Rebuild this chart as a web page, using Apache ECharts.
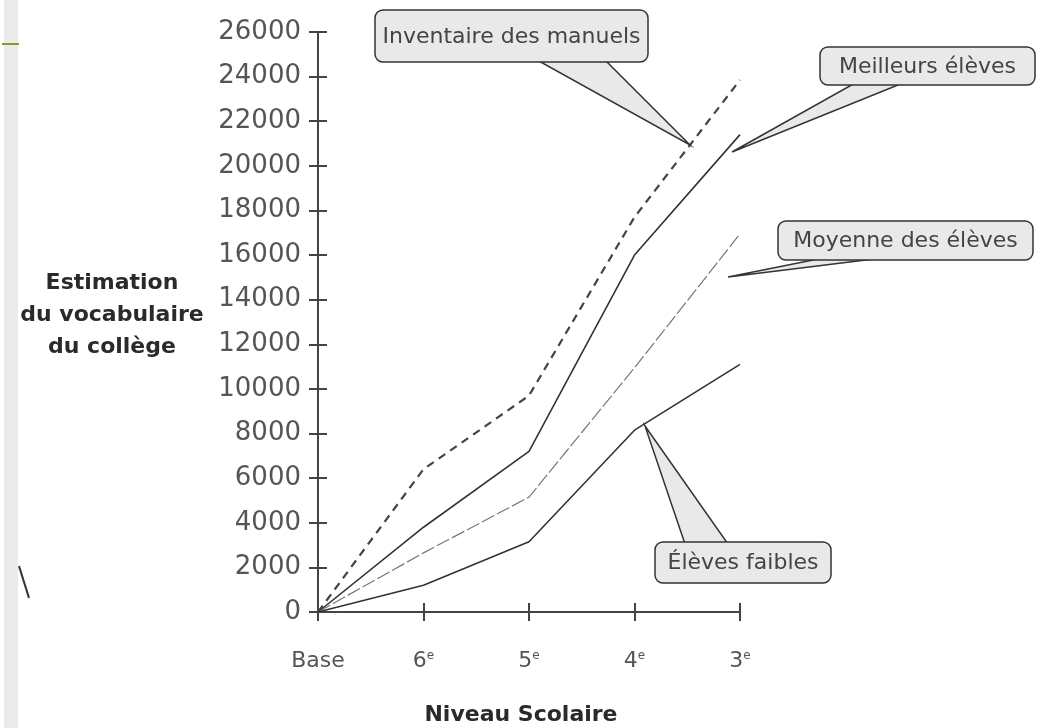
<!DOCTYPE html>
<html>
<head>
<meta charset="utf-8">
<script src="https://cdn.jsdelivr.net/npm/echarts@6/dist/echarts.min.js"></script>
<style>
html,body{margin:0;padding:0;background:#fff;}
#chart{width:1045px;height:728px;}
</style>
</head>
<body>
<div id="chart"></div>
<script>
// ---- data ----
const categories = ['Base', '6e', '5e', '4e', '3e'];
const inventaireManuels = [0, 6400, 9700, 17700, 23850];
const meilleursEleves = [0, 3800, 7200, 16000, 21400];
const moyenneEleves = [0, 2650, 5150, 10950, 16950];
const elevesFaibles = [0, 1200, 3150, 8150, 11100];
const yMin = 0, yMax = 26000, yStep = 2000;
const yTitle = 'Estimation\ndu vocabulaire\ndu collège';
const xTitle = 'Niveau Scolaire';
const callouts = [
  { text: 'Inventaire des manuels', box: [375, 10, 273, 52], ptr: [[537, 60], [605, 60], [690, 145]] },
  { text: 'Meilleurs élèves', box: [820, 47, 215, 38], ptr: [[855, 83], [903, 83], [732, 152]] },
  { text: 'Moyenne des élèves', box: [778, 221, 255, 39], ptr: [[823, 258], [882, 258], [728, 277]] },
  { text: 'Élèves faibles', box: [655, 542, 176, 41], ptr: [[685, 544], [728, 544], [645, 426]] }
];

const FONT = 'DejaVu Sans';
const ink = '#333';

const chart = echarts.init(document.getElementById('chart'), null, { renderer: 'canvas' });

function xLabel(v) {
  if (v === 'Base') return v;
  return v.slice(0, -1) + '{sup|' + v.slice(-1) + '}';
}

const graphics = [
  { type: 'rect', shape: { x: 4, y: 0, width: 14, height: 728 }, style: { fill: '#ebebeb' }, z: 0 },
  { type: 'line', shape: { x1: 2, y1: 44, x2: 19, y2: 44 }, style: { stroke: '#8a9a2a', lineWidth: 2 }, z: 1 },
  { type: 'line', shape: { x1: 19, y1: 566, x2: 29, y2: 598 }, style: { stroke: '#333', lineWidth: 2 }, z: 1 },
  {
    type: 'text', x: 112, y: 315, z: 5,
    style: {
      text: yTitle, font: 'bold 22px "' + FONT + '"', fill: '#2a2a2a',
      textAlign: 'center', textVerticalAlign: 'middle', lineHeight: 32
    }
  },
  {
    type: 'text', x: 521, y: 715, z: 5,
    style: {
      text: xTitle, font: 'bold 22px "' + FONT + '"', fill: '#2a2a2a',
      textAlign: 'center', textVerticalAlign: 'middle'
    }
  }
];
callouts.forEach(function (c) {
  graphics.push({
    type: 'polygon', z: 10,
    shape: { points: c.ptr },
    style: { fill: '#e9e9e9', stroke: ink, lineWidth: 1.5 }
  });
  graphics.push({
    type: 'rect', z: 11,
    shape: { x: c.box[0], y: c.box[1], width: c.box[2], height: c.box[3], r: 8 },
    style: { fill: '#e9e9e9', stroke: ink, lineWidth: 1.5 }
  });
  graphics.push({
    type: 'text', z: 12,
    x: c.box[0] + c.box[2] / 2, y: c.box[1] + c.box[3] / 2 + 1,
    style: {
      text: c.text, font: '22px "' + FONT + '"', fill: '#444',
      textAlign: 'center', textVerticalAlign: 'middle'
    }
  });
});

const yAxisBase = { type: 'value', min: yMin, max: yMax, interval: yStep, position: 'left', splitLine: { show: false } };
const xAxisBase = { type: 'category', data: categories, boundaryGap: false, position: 'bottom', splitLine: { show: false } };

const option = {
  backgroundColor: '#fff',
  animation: false,
  grid: { left: 318, right: 305, top: 32, bottom: 116, containLabel: false },
  xAxis: [
    Object.assign({}, xAxisBase, {
      axisLine: { show: true, lineStyle: { color: '#444', width: 2 } },
      axisTick: { show: true, inside: false, length: 9, interval: 0, lineStyle: { color: '#444', width: 2 } },
      axisLabel: {
        interval: 0, margin: 38, color: '#555', fontFamily: FONT, fontSize: 22,
        formatter: xLabel,
        rich: { sup: { fontSize: 12, fontFamily: FONT, color: '#555', verticalAlign: 'top', padding: [0, 0, 10, 0] } }
      }
    }),
    Object.assign({}, xAxisBase, {
      axisLine: { show: false },
      axisTick: { show: true, inside: true, length: 9, interval: 0, lineStyle: { color: '#444', width: 2 } },
      axisLabel: { show: false }
    })
  ],
  yAxis: [
    Object.assign({}, yAxisBase, {
      axisLine: { show: true, lineStyle: { color: '#444', width: 2 } },
      axisTick: { show: true, inside: false, length: 9, lineStyle: { color: '#444', width: 2 } },
      axisLabel: { margin: 17, color: '#555', fontFamily: FONT, fontSize: 26, formatter: function (v) { return String(v); } }
    }),
    Object.assign({}, yAxisBase, {
      axisLine: { show: false },
      axisTick: { show: true, inside: true, length: 9, lineStyle: { color: '#444', width: 2 } },
      axisLabel: { show: false }
    })
  ],
  series: [
    {
      name: 'Inventaire des manuels', type: 'line', data: inventaireManuels,
      symbol: 'none', lineStyle: { color: '#444', width: 2.2, type: [8, 6] }, z: 3
    },
    {
      name: 'Meilleurs élèves', type: 'line', data: meilleursEleves,
      symbol: 'none', lineStyle: { color: ink, width: 1.6 }, z: 3
    },
    {
      name: 'Moyenne des élèves', type: 'line', data: moyenneEleves,
      symbol: 'none', lineStyle: { color: '#777', width: 1.2, type: [14, 3] }, z: 3
    },
    {
      name: 'Élèves faibles', type: 'line', data: elevesFaibles,
      symbol: 'none', lineStyle: { color: ink, width: 1.6 }, z: 3
    }
  ],
  graphic: graphics
};
chart.setOption(option);
</script>
</body>
</html>
